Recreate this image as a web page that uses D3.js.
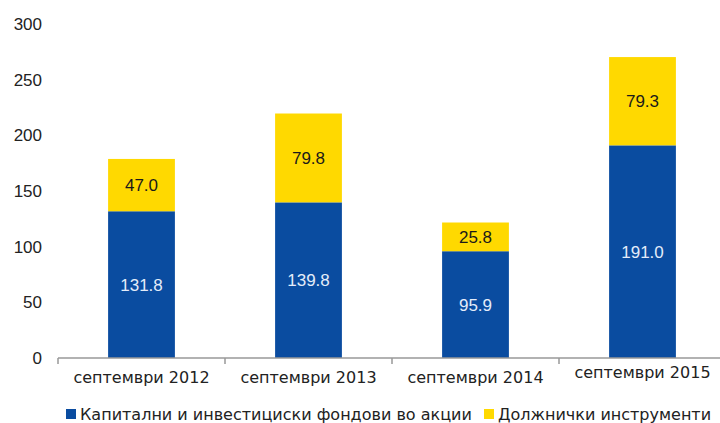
<!DOCTYPE html>
<html>
<head>
<meta charset="utf-8">
<script src="https://cdn.jsdelivr.net/npm/d3@7"></script>
<style>
  body { margin: 0; background: #fff; }
  svg { display: block; }
</style>
</head>
<body>
<svg id="chart" width="720" height="423" viewBox="0 0 720 423"></svg>
<script>
// data
const categories = ["септември 2012", "септември 2013", "септември 2014", "септември 2015"];
const equity = [131.8, 139.8, 95.9, 191.0];   // Капитални и инвестициски фондови во акции
const debt = [47.0, 79.8, 25.8, 79.3];        // Должнички инструменти
const yTicks = [0, 50, 100, 150, 200, 250, 300];
const seriesNames = ["Капитални и инвестициски фондови во акции", "Должнички инструменти"];
const colors = ["#0a4ca0", "#ffd900"];

const svg = d3.select("#chart");

const x = d3.scaleBand()
  .domain(categories)
  .range([58, 726])
  .paddingInner(0.6)
  .paddingOuter(0.3);

const y = d3.scaleLinear().domain([0, 300]).range([358, 24]);

// y tick labels (no axis line)
svg.append("g")
  .selectAll("text")
  .data(yTicks)
  .enter()
  .append("text")
  .attr("x", 42)
  .attr("y", d => y(d))
  .attr("dy", "0.36em")
  .attr("text-anchor", "end")
  .attr("font-family", "Liberation Sans, Arial, sans-serif")
  .attr("font-size", 17)
  .attr("fill", "#222")
  .text(d => d);

// stacked bars
const rows = categories.map((c, i) => ({ cat: c, equity: equity[i], debt: debt[i] }));
const stack = d3.stack().keys(["equity", "debt"])(rows);

const layers = svg.append("g")
  .selectAll("g")
  .data(stack)
  .enter()
  .append("g")
  .attr("fill", (d, i) => colors[i]);

layers.selectAll("rect")
  .data(d => d)
  .enter()
  .append("rect")
  .attr("x", d => x(d.data.cat))
  .attr("width", x.bandwidth())
  .attr("y", d => y(d[1]))
  .attr("height", d => y(d[0]) - y(d[1]));

// value labels
layers.each(function (layer, li) {
  d3.select(this).selectAll("text")
    .data(layer)
    .enter()
    .append("text")
    .attr("x", d => x(d.data.cat) + x.bandwidth() / 2)
    .attr("y", d => (y(d[0]) + y(d[1])) / 2)
    .attr("dy", "0.36em")
    .attr("text-anchor", "middle")
    .attr("font-family", "Liberation Sans, Arial, sans-serif")
    .attr("font-size", 17)
    .attr("fill", li === 0 ? "#e4ecfa" : "#1a1a1a")
    .text(d => (d[1] - d[0]).toFixed(1));
});

// x axis
const xAxis = svg.append("g").attr("transform", "translate(0,358)");
xAxis.append("line")
  .attr("x1", 58).attr("x2", 726)
  .attr("stroke", "#999").attr("stroke-width", 1.5);
const tickPos = categories.map(c => x(c) - x.step() * x.paddingOuter()).concat([726]);
xAxis.selectAll(".tick")
  .data(tickPos)
  .enter()
  .append("line")
  .attr("x1", d => d).attr("x2", d => d)
  .attr("y1", 0).attr("y2", 6)
  .attr("stroke", "#999").attr("stroke-width", 1.5);
xAxis.selectAll("text")
  .data(categories)
  .enter()
  .append("text")
  .attr("x", d => x(d) + x.bandwidth() / 2)
  .attr("y", (d, i) => i === 3 ? 14 : 19)
  .attr("dy", "0.36em")
  .attr("text-anchor", "middle")
  .attr("font-family", "DejaVu Sans, sans-serif")
  .attr("font-size", 16)
  .attr("fill", "#222")
  .text(d => d);

// legend
const legend = svg.append("g").attr("transform", "translate(0,414)");
const legendX = [66, 484];
seriesNames.forEach((name, i) => {
  legend.append("rect")
    .attr("x", legendX[i]).attr("y", -5)
    .attr("width", 10).attr("height", 10)
    .attr("fill", colors[i]);
  legend.append("text")
    .attr("x", legendX[i] + 14)
    .attr("y", 0)
    .attr("dy", "0.36em")
    .attr("font-family", "DejaVu Sans, sans-serif")
    .attr("font-size", 16)
    .attr("fill", "#222")
    .text(name);
});
</script>
</body>
</html>
